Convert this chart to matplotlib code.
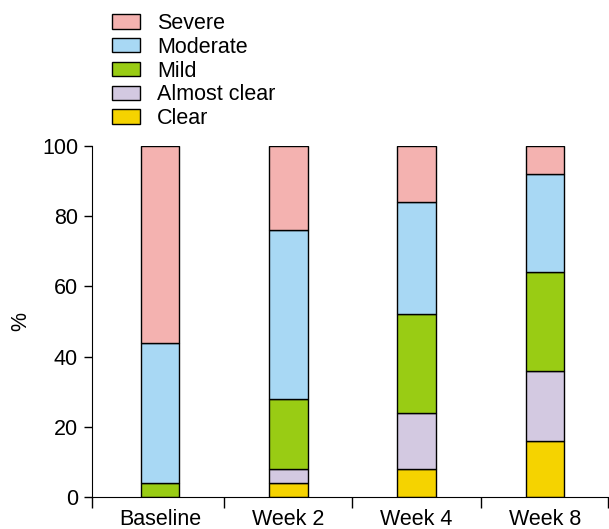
import numpy as np
import matplotlib.pyplot as plt
from matplotlib.patches import Patch

plt.rcParams['font.family'] = ['Liberation Sans', 'DejaVu Sans']

# Data (percent of patients)
groups = ['Baseline', 'Week 2', 'Week 4', 'Week 8']
clear = [0, 4, 8, 16]
almost_clear = [0, 4, 16, 20]
mild = [4, 20, 28, 28]
moderate = [40, 48, 32, 28]
severe = [56, 24, 16, 8]

labels = ['Clear', 'Almost clear', 'Mild', 'Moderate', 'Severe']
colors = ['#f5d300', '#d3c9e1', '#99cc14', '#a8d8f4', '#f4b2b0']
series = [clear, almost_clear, mild, moderate, severe]

fs = 15.5

fig = plt.figure(figsize=(6.09, 5.29), dpi=100)
ax = fig.add_axes([0.151, 0.0605, 0.847, 0.6635])

x = np.arange(len(groups))
bottom = np.zeros(len(groups))
for vals, col in zip(series, colors):
    ax.bar(x, vals, width=0.3, bottom=bottom, color=col,
           edgecolor='black', linewidth=1.0)
    bottom += np.array(vals)

ax.set_xlim(-0.53, 3.49)
ax.set_ylim(0, 100)
ax.set_yticks(range(0, 101, 20))
ax.tick_params(axis='y', labelsize=fs, length=6, width=1, pad=4)
ax.set_xticks(x)
ax.set_xticklabels(groups, fontsize=fs)
ax.tick_params(axis='x', length=0, pad=9)
ax.set_xticks([-0.53, 0.5, 1.5, 2.5, 3.49], minor=True)
ax.tick_params(axis='x', which='minor', length=8, width=1)
ax.spines['top'].set_visible(False)
ax.spines['right'].set_visible(False)
ax.set_ylabel('%', fontsize=fs, labelpad=8)

handles = [Patch(facecolor=c, edgecolor='black', linewidth=1.0, label=l)
           for c, l in zip(colors, labels)]
fig.legend(handles[::-1], labels[::-1], loc='upper left',
           bbox_to_anchor=(0.155, 1.008), frameon=False, fontsize=fs,
           handlelength=1.3, handleheight=0.65, labelspacing=0.13,
           handletextpad=0.8, borderpad=0.3)

fig.savefig('out.png', dpi=100)
